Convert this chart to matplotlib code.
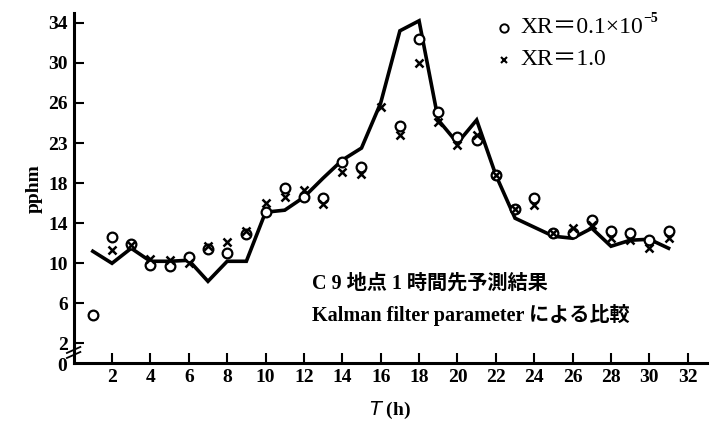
import numpy as np
import matplotlib
matplotlib.use("Agg")
import matplotlib.pyplot as plt

# ===============================
# DATA
# ===============================
hours = list(range(1, 32))

# solid line (measured)
line_vals = [11.2, 10.0, 11.5, 10.2, 10.2, 10.3, 8.2, 10.2, 10.2, 15.1,
             15.3, 16.6, 18.5, 20.3, 21.5, 26.0, 33.2, 34.2, 24.3, 22.0,
             24.3, 18.8, 14.5, 13.6, 12.7, 12.5, 13.5, 11.7, 12.3, 12.4,
             11.5]

# o : XR = 0.1e-5
circle_vals = [4.8, 12.6, 11.9, 9.8, 9.7, 10.6, 11.4, 11.0, 12.9, 15.1,
               17.5, 16.6, 16.5, 20.1, 19.6, np.nan, 23.7, 32.4, 25.1, 22.6,
               22.3, 18.8, 15.4, 16.5, 13.0, 13.0, 14.3, 13.2, 13.0, 12.3,
               13.2]

# x : XR = 1.0
cross_vals = [np.nan, 11.3, 11.8, 10.4, 10.3, 10.0, 11.7, 12.1, 13.2, 16.0,
              16.6, 17.3, 15.9, 19.1, 18.9, 25.6, 22.8, 30.0, 24.1, 21.8,
              22.8, 18.8, 15.4, 15.8, 13.0, 13.5, 13.8, 12.5, 12.3, 11.5,
              12.5]

y_ticks = [2, 6, 10, 14, 18, 22, 26, 30, 34]
y_labels = ["2", "6", "10", "14", "18", "23", "26", "30", "34"]
x_ticks = list(range(2, 33, 2))

legend_circle = "XR＝0.1×10"
legend_circle_sup = "−5"
legend_cross = "XR＝1.0"
note_line1 = "C 9 地点 1 時間先予測結果"
note_line2 = "Kalman filter parameter による比較"

# ===============================
# PLOT
# ===============================
serif = ["Liberation Serif", "Noto Sans CJK JP", "DejaVu Sans"]
plt.rcParams['font.family'] = serif

fig = plt.figure(figsize=(7.1, 4.32), dpi=100)
ax = fig.add_axes([0.1037, 0.1586, 0.892, 0.8118])

ax.plot(hours, line_vals, color="black", lw=2.6, solid_joinstyle="miter", zorder=2)
ax.plot(hours, circle_vals, "o", mfc="white", mec="black", mew=1.6, ms=7,
        ls="none", zorder=3)
ax.plot(hours, cross_vals, "x", color="black", mew=1.8, ms=5.5, ls="none", zorder=4)

ax.set_xlim(0, 33)
ax.set_ylim(0, 35)

for s in ["top", "right"]:
    ax.spines[s].set_visible(False)
for s in ["left", "bottom"]:
    ax.spines[s].set_linewidth(2.2)

ax.set_yticks(y_ticks)
ax.set_yticklabels(y_labels)
ax.set_xticks(x_ticks)
ax.tick_params(direction="in", length=7, width=1.5, labelsize=14, pad=4)
for lab in ax.get_xticklabels() + ax.get_yticklabels():
    lab.set_fontweight("bold")

# the "0" at the corner and the axis break
ax.text(-0.35, -0.3, "0", ha="right", va="center", fontsize=14, fontweight="bold")
ax.plot([-0.35, 0.35], [0.55, 1.15], color="black", lw=1.3, clip_on=False)
ax.plot([-0.35, 0.35], [1.05, 1.65], color="black", lw=1.3, clip_on=False)

ax.set_ylabel("pphm", fontsize=14, fontweight="bold", labelpad=4)
ax.set_xlabel("$T$ (h)", fontsize=14, fontweight="bold", labelpad=10)

# legend drawn by hand
ax.plot([22.4], [33.5], "o", mfc="white", mec="black", mew=1.4, ms=6, clip_on=False)
ax.plot([22.4], [30.3], "x", color="black", mew=1.5, ms=5, clip_on=False)
ax.text(23.3, 33.5, legend_circle, fontsize=17, va="center", ha="left")
ax.text(29.7, 34.4, legend_circle_sup, fontsize=10, fontweight="bold",
        va="center", ha="left")
ax.text(23.3, 30.3, legend_cross, fontsize=17, va="center", ha="left")

# note
ax.text(12.4, 8.0, note_line1, fontsize=14.5, fontweight="bold", va="center", ha="left")
ax.text(12.4, 4.8, note_line2, fontsize=14.5, fontweight="bold", va="center", ha="left")

fig.savefig("out.png", dpi=100)
